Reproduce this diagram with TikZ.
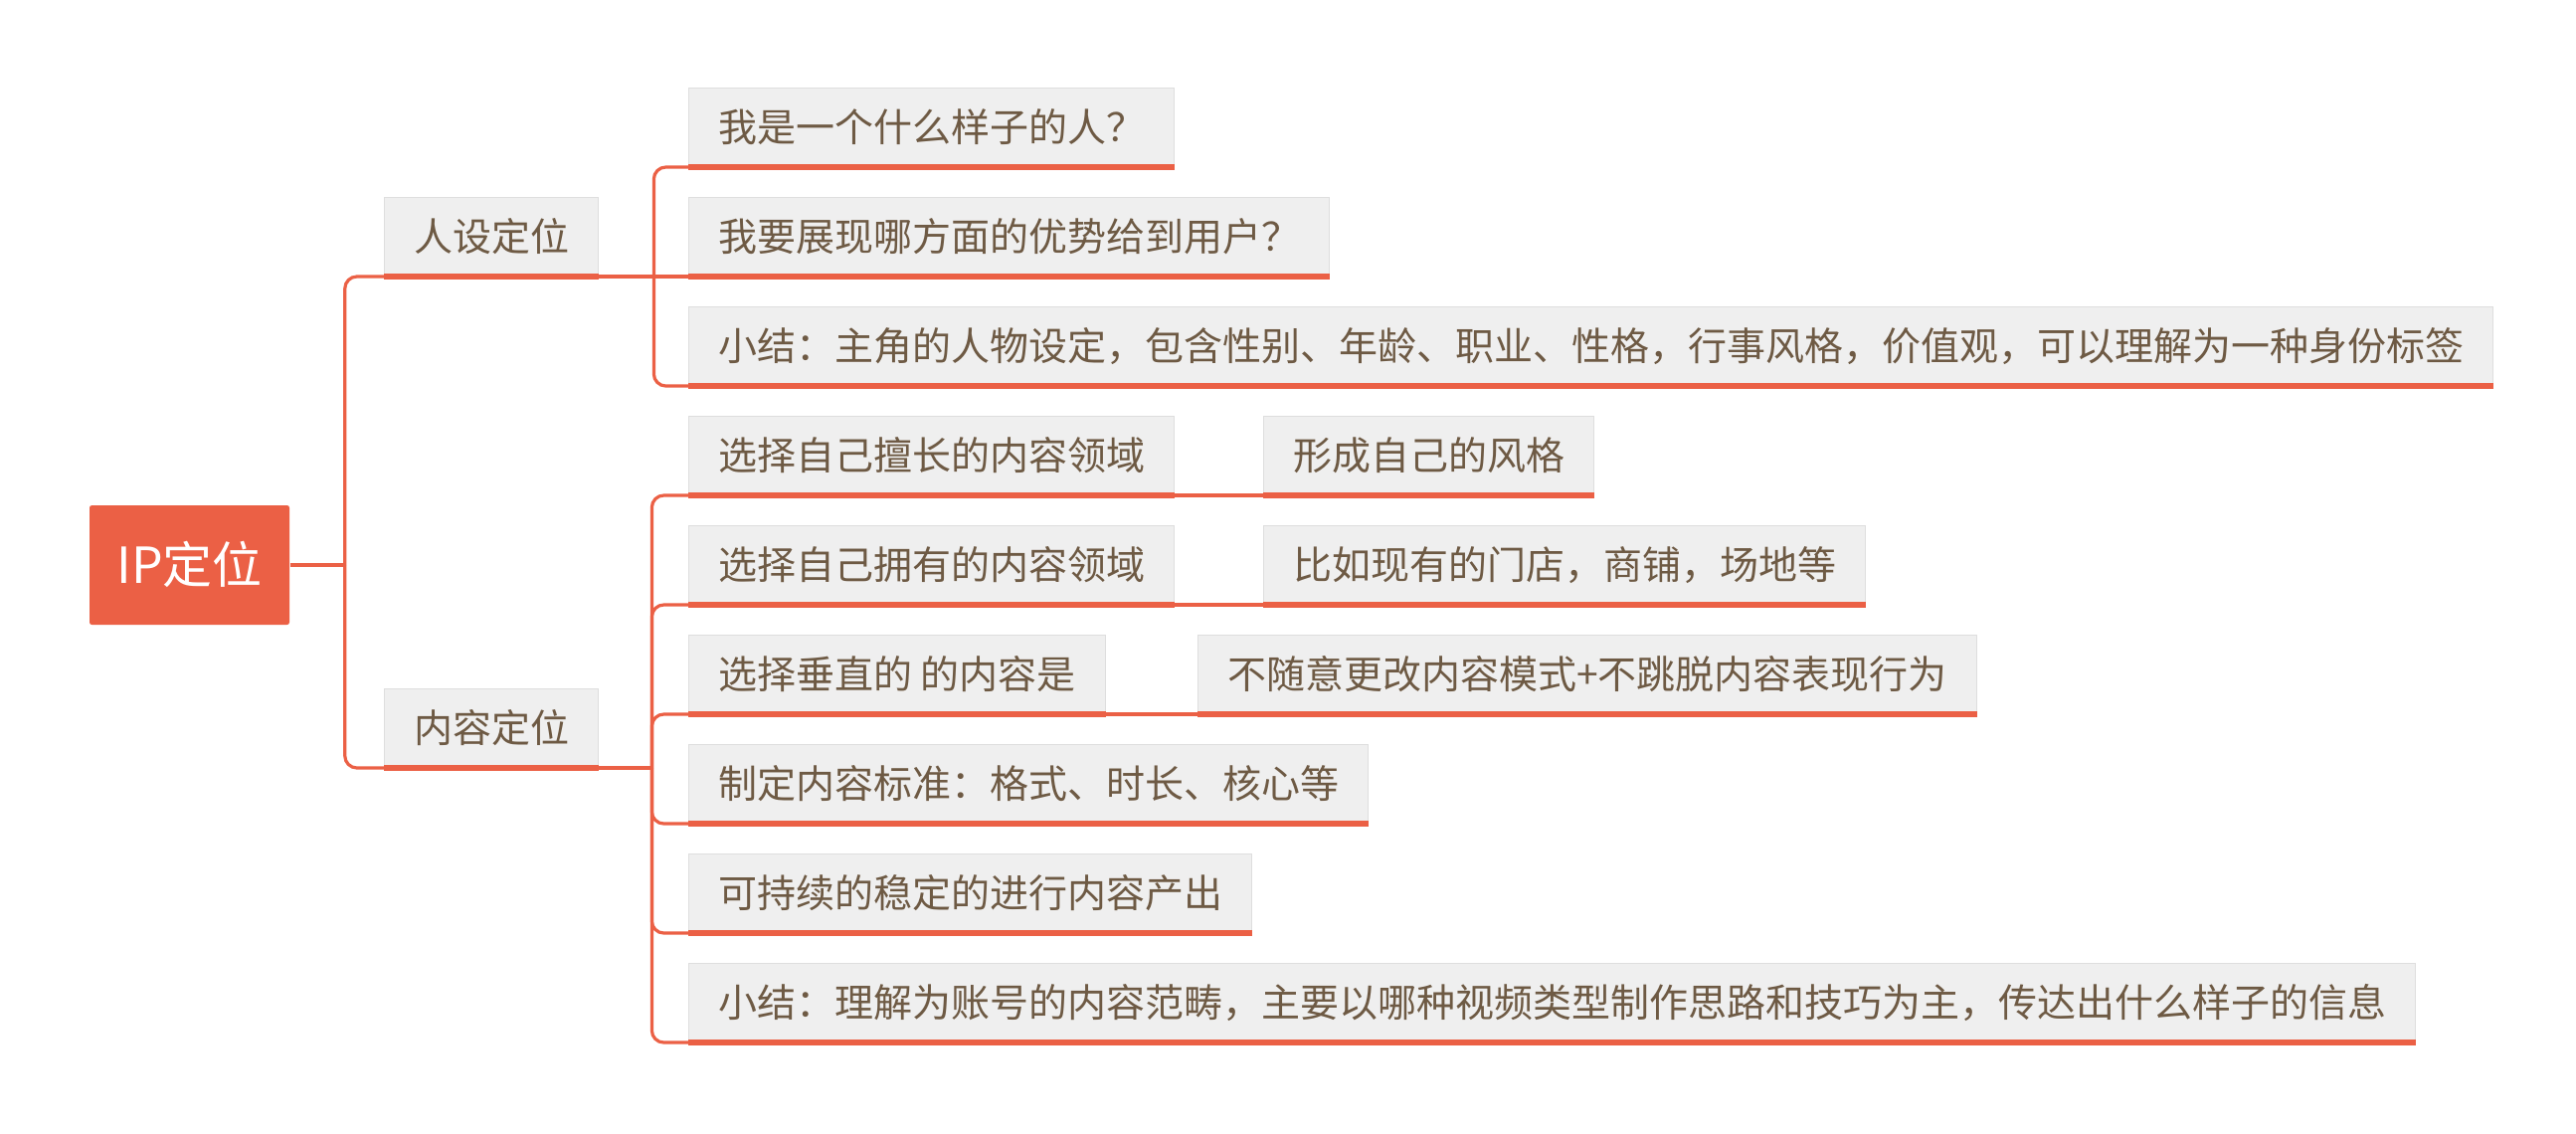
\documentclass[tikz,border=0pt]{standalone}
\usepackage{fontspec}
\setmainfont{Noto Sans CJK SC}
\definecolor{mm-orange}{RGB}{235, 96, 69}
\definecolor{mm-grey}{RGB}  {239,239,239}
\definecolor{mm-border}{RGB}{222,222,222}
\definecolor{mm-brown}{RGB} {110, 90, 68}

\tikzset{
	underline/.style={draw=mm-orange, line width=1.3pt},
	branch/.style={draw=mm-orange, line width=0.8pt, rounded corners=3pt},
	central/.style={fill=mm-orange, text=white, rounded corners=0.6pt,
		font=\fontsize{12.5}{14}\selectfont, minimum width=50.25pt, minimum height=30pt,
		text height=10.6pt, text depth=1.6pt},
	topic/.style={draw=mm-border, line width=0.3pt, fill=mm-grey, text=mm-brown,
		font=\fontsize{9.75}{11}\selectfont, inner xsep=7.4pt, inner ysep=0pt,
		minimum height=19.75pt, text height=8.4pt, text depth=1.35pt, anchor=south west,
		append after command={(\tikzlastnode.south west) edge[underline] (\tikzlastnode.south east)}}
}

\begin{document}
\begin{tikzpicture}[x=0.25pt,y=-0.25pt]
\useasboundingbox (0,0) rectangle (2590,1139);

% root
\node[central] (ip) at (190.5,568) {IP定位};

% first level
\node[topic] (rs) at (386,278) {人设定位};
\node[topic] (nr) at (386,772) {内容定位};

% persona
\node[topic] (rs1) at (692,168) {我是一个什么样子的人？};
\node[topic] (rs2) at (692,278) {我要展现哪方面的优势给到用户？};
\node[topic] (rs3) at (692,388) {小结：主角的人物设定，包含性别、年龄、职业、性格，行事风格，价值观，可以理解为一种身份标签};

% content
\node[topic] (nr1) at (692,498) {选择自己擅长的内容领域};
\node[topic] (nr2) at (692,608) {选择自己拥有的内容领域};
\node[topic] (nr3) at (692,718) {选择垂直的 的内容是};
\node[topic] (nr4) at (692,828) {制定内容标准：格式、时长、核心等};
\node[topic] (nr5) at (692,938) {可持续的稳定的进行内容产出};
\node[topic] (nr6) at (692,1048) {小结：理解为账号的内容范畴，主要以哪种视频类型制作思路和技巧为主，传达出什么样子的信息};

\node[topic] (nr1a) at (1270,498) {形成自己的风格};
\node[topic] (nr2a) at (1270,608) {比如现有的门店，商铺，场地等};
\node[topic] (nr3a) at (1204,718) {不随意更改内容模式+不跳脱内容表现行为};

% connectors
\draw[branch] (ip.east) -- ++(55,0) coordinate (ipfork);
\draw[branch] (ipfork) |- (rs.south west);
\draw[branch] (ipfork) |- (nr.south west);

\draw[branch] (rs.south east) -- (rs2.south west);
\path (rs.south east) ++(55,0) coordinate (rsfork);
\draw[branch] (rsfork) |- (rs1.south west);
\draw[branch] (rsfork) |- (rs3.south west);

\draw[branch] (nr.south east) -- ++(53,0) coordinate (nrfork);
\foreach \c in {nr1,nr2,nr3,nr4,nr5,nr6}
	\draw[branch] (nrfork) |- (\c.south west);

\draw[branch] (nr1.south east) -- (nr1a.south west);
\draw[branch] (nr2.south east) -- (nr2a.south west);
\draw[branch] (nr3.south east) -- (nr3a.south west);

\end{tikzpicture}
\end{document}
